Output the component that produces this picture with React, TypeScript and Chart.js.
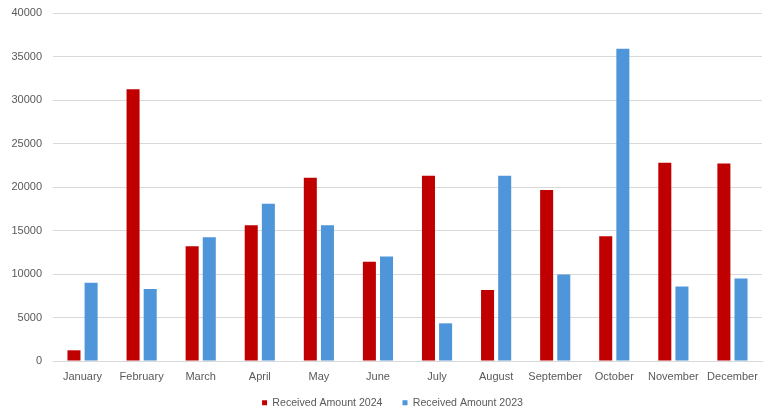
import React, { useEffect, useRef } from "react";
import { Chart, registerables } from "chart.js";

Chart.register(...registerables);

const months = ["January", "February", "March", "April", "May", "June", "July", "August", "September", "October", "November", "December"];
const received2024 = [1230, 31250, 13180, 15600, 21050, 11420, 21300, 8160, 19650, 14330, 22800, 22690];
const received2023 = [9000, 8280, 14220, 18080, 15600, 12000, 4330, 21300, 9930, 35900, 8550, 9470];
const yTicks = [0, 5000, 10000, 15000, 20000, 25000, 30000, 35000, 40000];

const textColor = "#595959";
const gridColor = "#d9d9d9";
const fontFamily = "'Liberation Sans', Arial, sans-serif";

const legendPlugin = {
  id: "legendTweak",
  afterInit(chart: any) {
    const legend = chart.legend;
    if (!legend) return;
    const orig = legend.fit;
    legend.fit = function () {
      orig.call(this);
      this.height = 31;
    };
  },
  afterLayout(chart: any) {
    const legend = chart.legend;
    if (legend) {
      legend.left = 23;
      legend.top = 377.5;
    }
  },
};

export default function App() {
  const ref = useRef<HTMLCanvasElement | null>(null);
  useEffect(() => {
    if (!ref.current) return;
    const chart = new Chart(ref.current, {
      type: "bar",
      data: {
        labels: months,
        datasets: [
          { label: "Received Amount 2024", data: received2024, backgroundColor: "#C00000", barPercentage: 0.76, categoryPercentage: 0.58 },
          { label: "Received Amount 2023", data: received2023, backgroundColor: "#4E95D9", barPercentage: 0.76, categoryPercentage: 0.58 },
        ],
      },
      plugins: [legendPlugin],
      options: {
        animation: false,
        responsive: false,
        maintainAspectRatio: false,
        layout: { padding: { top: 13, right: 9, left: 0, bottom: 0 } },
        plugins: {
          tooltip: { enabled: false },
          legend: {
            position: "bottom",
            labels: {
              boxWidth: 5,
              boxHeight: 5,
              padding: 20,
              color: textColor,
              font: { family: fontFamily, size: 10.6 },
            },
          },
        },
        scales: {
          x: {
            grid: { display: false, drawTicks: false },
            border: { color: gridColor },
            ticks: { color: textColor, font: { family: fontFamily, size: 11 }, padding: 9, maxRotation: 0, autoSkip: false },
            afterFit: (s: any) => { s.height = 21; },
          },
          y: {
            min: 0,
            max: 40000,
            afterBuildTicks: (s: any) => { s.ticks = yTicks.map((v) => ({ value: v })); },
            grid: { color: gridColor, drawTicks: false },
            border: { display: false },
            ticks: { color: textColor, font: { family: fontFamily, size: 11 }, padding: 11, callback: (v: any) => String(v) },
            afterFit: (s: any) => { s.width = 53; s.paddingTop = 0; s.paddingBottom = 0; },
          },
        },
      },
    });
    return () => chart.destroy();
  }, []);
  return (
    <div style={{ position: "fixed", left: 0, top: 0, width: 771, height: 413, background: "#fff" }}>
      <canvas ref={ref} width={771} height={413} style={{ width: 771, height: 413 }} />
    </div>
  );
}
